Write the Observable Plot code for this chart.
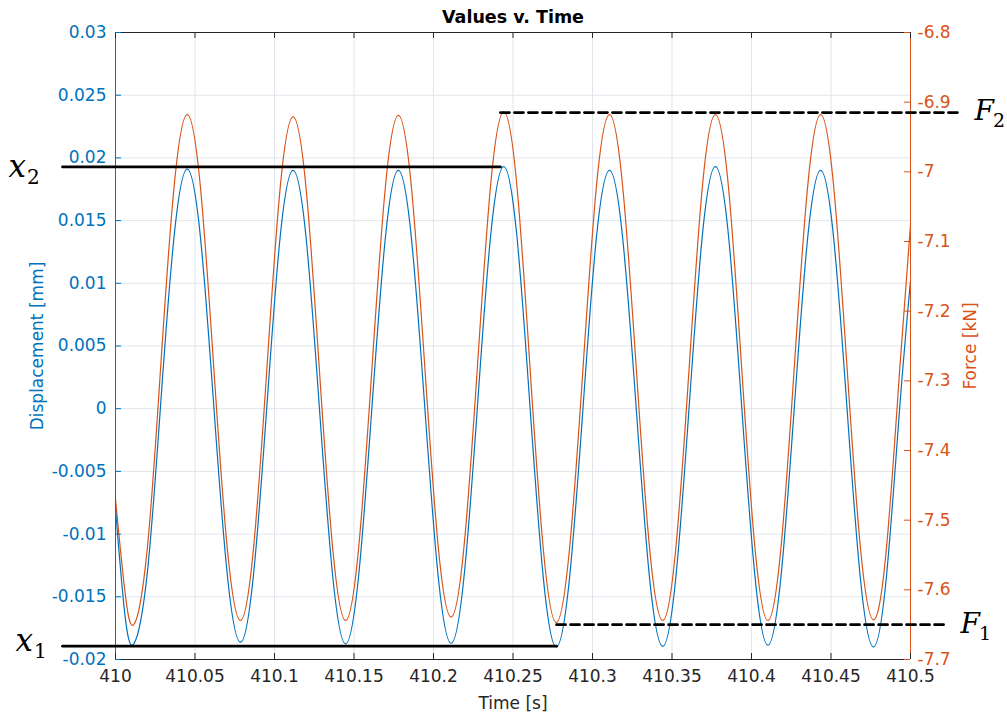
<!DOCTYPE html>
<html>
<head>
<meta charset="utf-8">
<script src="https://cdn.jsdelivr.net/npm/d3@7"></script>
<script src="https://cdn.jsdelivr.net/npm/@observablehq/plot@0.6"></script>
<style>
  html, body { margin: 0; padding: 0; background: #ffffff; }
  #chart { width: 1007px; height: 715px; }
</style>
</head>
<body>
<div id="chart"></div>
<script>
// Sampled test record: time [s], displacement [mm], force [kN]
const time = [
  410.0000, 410.0058,
  410.0115, 410.0199, 410.0283, 410.0367,
  410.0451, 410.0535, 410.0618, 410.0702,
  410.0786, 410.0869, 410.0952, 410.1034,
  410.1117, 410.1200, 410.1282, 410.1365,
  410.1447, 410.1530, 410.1613, 410.1696,
  410.1779, 410.1862, 410.1945, 410.2028,
  410.2111, 410.2194, 410.2277, 410.2359,
  410.2442, 410.2525, 410.2607, 410.2690,
  410.2772, 410.2856, 410.2940, 410.3023,
  410.3107, 410.3191, 410.3275, 410.3358,
  410.3442, 410.3525, 410.3608, 410.3690,
  410.3773, 410.3856, 410.3938, 410.4021,
  410.4103, 410.4186, 410.4269, 410.4352,
  410.4435, 410.4518, 410.4601, 410.4684,
  410.4767, 410.4850, 410.4933, 410.5000
];
const displacement = [
  -0.0080, -0.0163,
  -0.01875, -0.01321, 0.00018, 0.01356,
  0.0191, 0.01358, 0.00024, -0.0131,
  -0.01862, -0.01311, 0.00019, 0.01349,
  0.0190, 0.01347, 0.00013, -0.01322,
  -0.01875, -0.01322, 0.00013, 0.01347,
  0.0190, 0.01348, 0.00015, -0.01318,
  -0.0187, -0.01314, 0.0003, 0.01374,
  0.0193, 0.01369, 0.00015, -0.01339,
  -0.0190, -0.01344, 0.0, 0.01344,
  0.0190, 0.01345, 0.00003, -0.01339,
  -0.01894, -0.01334, 0.00018, 0.0137,
  0.0193, 0.01371, 0.00022, -0.01327,
  -0.01886, -0.01332, 0.00007, 0.01346,
  0.0190, 0.01344, 0.0, -0.01344,
  -0.0190, -0.0132, 0.0002, 0.0102
];
const force = [
  -7.47, -7.60,
  -7.650, -7.543, -7.284, -7.025,
  -6.918, -7.024, -7.281, -7.538,
  -7.644, -7.538, -7.283, -7.027,
  -6.921, -7.027, -7.283, -7.538,
  -7.644, -7.538, -7.282, -7.025,
  -6.919, -7.024, -7.279, -7.534,
  -7.639, -7.533, -7.277, -7.020,
  -6.914, -7.021, -7.281, -7.540,
  -7.647, -7.540, -7.283, -7.025,
  -6.918, -7.024, -7.281, -7.538,
  -7.644, -7.538, -7.281, -7.024,
  -6.918, -7.024, -7.281, -7.538,
  -7.644, -7.538, -7.281, -7.024,
  -6.918, -7.024, -7.281, -7.537,
  -7.643, -7.537, -7.281, -7.076
];

// Axis ranges and ticks
const timeDomain = [410, 410.5];
const dispDomain = [-0.02, 0.03];
const forceDomain = [-7.7, -6.8];
const timeTicks = [410, 410.05, 410.1, 410.15, 410.2, 410.25, 410.3, 410.35, 410.4, 410.45, 410.5];
const dispTicks = [-0.02, -0.015, -0.01, -0.005, 0, 0.005, 0.01, 0.015, 0.02, 0.025, 0.03];
const forceTicks = [-7.7, -7.6, -7.5, -7.4, -7.3, -7.2, -7.1, -7.0, -6.9, -6.8];

// Peak/trough reference levels (amplitude markers)
const x2Level = {name: "x", sub: "2", value: 0.01928, t1: 409.9667, t2: 410.2421};
const x1Level = {name: "x", sub: "1", value: -0.01894, t1: 409.9667, t2: 410.2774};
const f2Level = {name: "F", sub: "2", value: -6.915, t1: 410.2421, t2: 410.5314};
const f1Level = {name: "F", sub: "1", value: -7.650, t1: 410.2774, t2: 410.5239};

const BLUE = "#0072BD";
const ORANGE = "#D95319";
const DARK = "#262626";
const GRID = "#e1e6ec";
const TICK_FONT = 17;

// Force shares the plot with displacement through a linear map onto the left scale
const forceToDisp = f =>
  dispDomain[0] + (f - forceDomain[0]) / (forceDomain[1] - forceDomain[0]) * (dispDomain[1] - dispDomain[0]);

const rows = time.map((t, i) => ({t, d: displacement[i], f: forceToDisp(force[i])}));
const forceTickRows = forceTicks.map(f => ({f, y: forceToDisp(f)}));

const fmt = (v, digits) => String(+v.toFixed(digits));

const W = 1007, H = 715;
const M = {top: 32, right: 97, bottom: 56, left: 115};
const frameW = W - M.left - M.right;
const frameH = H - M.top - M.bottom;

const segment = (l, v) => [{k: l.sub, t: l.t1, v}, {k: l.sub, t: l.t2, v}];
const dispLevelLines = [...segment(x2Level, x2Level.value), ...segment(x1Level, x1Level.value)];
const forceLevelLines = [...segment(f2Level, forceToDisp(f2Level.value)), ...segment(f1Level, forceToDisp(f1Level.value))];

const labelFont = "'DejaVu Serif', serif";

// Italic symbol plus subscript, placed beside the end of a reference line
function levelLabel(level, yValue, anchor, dx, dy, size, subSize, advance) {
  return [
    Plot.text([level], {y: () => yValue, text: "name", frameAnchor: anchor, textAnchor: "start", lineAnchor: "bottom",
      dx, dy, fontFamily: labelFont, fontStyle: "italic", fontSize: size, fill: "#000000"}),
    Plot.text([level], {y: () => yValue, text: "sub", frameAnchor: anchor, textAnchor: "start", lineAnchor: "bottom",
      dx: dx + size * advance, dy: dy + 7, fontFamily: labelFont, fontSize: subSize, fill: "#000000"})
  ];
}

const chart = Plot.plot({
  width: W,
  height: H,
  marginTop: M.top,
  marginRight: M.right,
  marginBottom: M.bottom,
  marginLeft: M.left,
  style: {fontFamily: "'DejaVu Sans', 'Liberation Sans', sans-serif", fontSize: "16px", background: "#ffffff"},
  x: {domain: timeDomain, axis: null},
  y: {domain: dispDomain, axis: null},
  marks: [
    // grid
    Plot.gridX(timeTicks, {stroke: GRID, strokeOpacity: 1}),
    Plot.gridY(dispTicks, {stroke: GRID, strokeOpacity: 1}),

    // signals
    Plot.line(rows, {x: "t", y: "f", stroke: ORANGE, strokeWidth: 1.2, curve: "natural"}),
    Plot.line(rows, {x: "t", y: "d", stroke: BLUE, strokeWidth: 1.2, curve: "natural"}),

    // box
    Plot.ruleY([dispDomain[0]], {stroke: DARK, strokeWidth: 1}),
    Plot.ruleY([dispDomain[1]], {stroke: DARK, strokeWidth: 1}),
    Plot.ruleX([timeDomain[0]], {stroke: BLUE, strokeWidth: 1}),
    Plot.ruleX([timeDomain[1]], {stroke: ORANGE, strokeWidth: 1}),

    // inward tick marks
    Plot.tickX(timeTicks, {x: d => d, insetTop: frameH - 6, stroke: DARK}),
    Plot.tickX(timeTicks, {x: d => d, insetBottom: frameH - 6, stroke: DARK}),
    Plot.tickY(dispTicks, {y: d => d, insetRight: frameW - 6, stroke: BLUE}),
    Plot.tickY(forceTickRows, {y: "y", insetLeft: frameW - 6, stroke: ORANGE}),

    // tick labels
    Plot.text(timeTicks, {x: d => d, text: d => fmt(d, 2), frameAnchor: "bottom", textAnchor: "middle", lineAnchor: "top",
      dy: 10, fontSize: TICK_FONT, fill: DARK}),
    Plot.text(dispTicks, {y: d => d, text: d => fmt(d, 3), frameAnchor: "left", textAnchor: "end", lineAnchor: "middle",
      dx: -9, fontSize: TICK_FONT, fill: BLUE}),
    Plot.text(forceTickRows, {y: "y", text: d => fmt(d.f, 1), frameAnchor: "right", textAnchor: "start", lineAnchor: "middle",
      dx: 7, fontSize: TICK_FONT, fill: ORANGE}),

    // titles
    Plot.text(["Values v. Time"], {frameAnchor: "top", dy: -15, fontWeight: "bold", fontSize: 17.5, fill: "#000000", lineAnchor: "middle"}),
    Plot.text(["Time [s]"], {frameAnchor: "bottom", dy: 44, fontSize: 17, fill: DARK, textAnchor: "middle", lineAnchor: "middle"}),
    Plot.text(["Displacement [mm]"], {frameAnchor: "left", dx: -78, rotate: -90, fontSize: 17, fill: BLUE, textAnchor: "middle", lineAnchor: "middle"}),
    Plot.text(["Force [kN]"], {frameAnchor: "right", dx: 60, rotate: -90, fontSize: 17, fill: ORANGE, textAnchor: "middle", lineAnchor: "middle"}),

    // amplitude reference lines
    Plot.line(dispLevelLines, {x: "t", y: "v", z: "k", stroke: "#000000", strokeWidth: 2.8}),
    Plot.line(forceLevelLines, {x: "t", y: "v", z: "k", stroke: "#000000", strokeWidth: 2.8, strokeDasharray: "9,5"}),

    // amplitude labels
    ...levelLabel(x2Level, x2Level.value, "left", -107, 10, 31, 20, 0.6),
    ...levelLabel(x1Level, x1Level.value, "left", -100, 5, 31, 20, 0.6),
    ...levelLabel(f2Level, forceToDisp(f2Level.value), "right", 64, 7, 28, 19, 0.66),
    ...levelLabel(f1Level, forceToDisp(f1Level.value), "right", 50, 8, 28, 19, 0.66)
  ]
});

document.getElementById("chart").appendChild(chart);
</script>
</body>
</html>
